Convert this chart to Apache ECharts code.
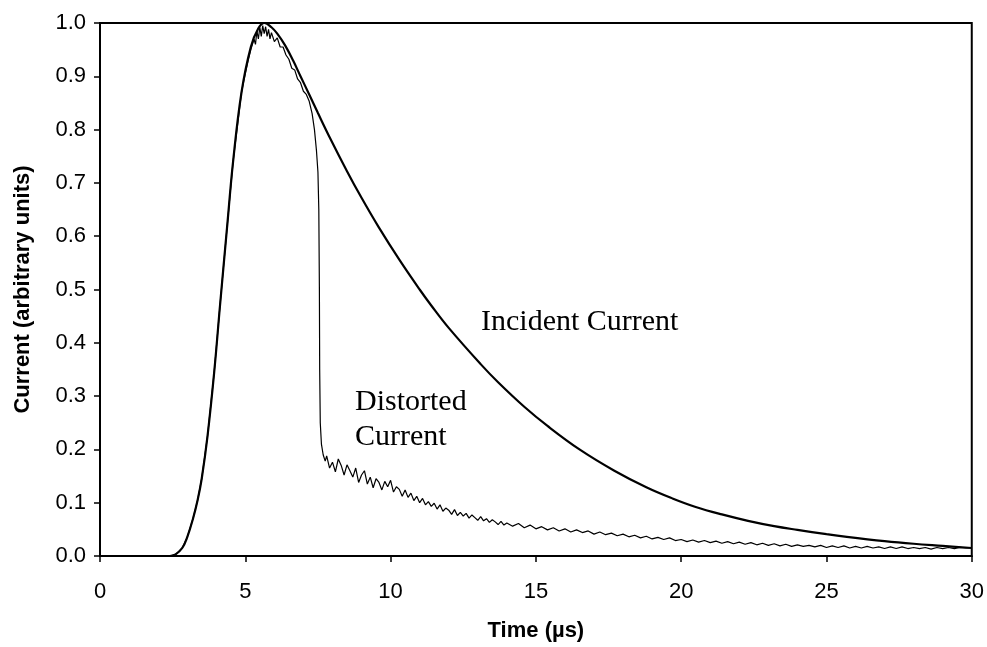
<!DOCTYPE html>
<html><head><meta charset="utf-8">
<script src="https://cdn.jsdelivr.net/npm/echarts@6/dist/echarts.min.js"></script>
<style>html,body{margin:0;padding:0;background:#fff}#c{width:987px;height:647px}</style>
</head><body><div id="c"></div>
<script>
var xTicks = [0, 5, 10, 15, 20, 25, 30];
var yTicks = [0.0, 0.1, 0.2, 0.3, 0.4, 0.5, 0.6, 0.7, 0.8, 0.9, 1.0];

var incidentTime = [0, 2.4, 2.6, 2.83, 3.0, 3.2, 3.36, 3.5, 3.7, 3.93, 4.13, 4.37, 4.58, 4.87, 5.19, 5.45, 5.66, 5.9, 6.1, 6.37, 6.65, 6.9, 7.2, 7.5, 7.88, 8.5, 9.0, 9.59, 10.3, 11.0, 11.4, 12.0, 13.1, 13.7, 14.6, 15.4, 16.5, 17.7, 18.8, 19.7, 20.5, 21.4, 22.3, 23.2, 24.0, 25.0, 25.7, 27.0, 28.0, 29.0, 30.0];
var incidentCurrent = [0, 0, 0.003, 0.015, 0.035, 0.07, 0.105, 0.145, 0.225, 0.345, 0.47, 0.615, 0.74, 0.87, 0.955, 0.99, 1.0, 0.992, 0.98, 0.958, 0.929, 0.9, 0.866, 0.831, 0.788, 0.722, 0.672, 0.617, 0.556, 0.5, 0.47, 0.428, 0.36, 0.326, 0.28, 0.244, 0.2, 0.16, 0.129, 0.108, 0.092, 0.078, 0.066, 0.056, 0.049, 0.041, 0.036, 0.028, 0.023, 0.019, 0.015];

var distortedTime = [0, 2.4, 2.6, 2.83, 3.0, 3.2, 3.36, 3.5, 3.7, 3.93, 4.13, 4.37, 4.58, 4.87, 5.0, 5.1, 5.19, 5.3, 5.35, 5.4, 5.45, 5.5, 5.55, 5.6, 5.65, 5.7, 5.75, 5.8, 5.85, 5.9, 6.0, 6.1, 6.2, 6.3, 6.4, 6.5, 6.6, 6.7, 6.8, 6.9, 7.0, 7.1, 7.2, 7.3, 7.38, 7.45, 7.5, 7.53, 7.55, 7.56, 7.58, 7.62, 7.68, 7.75,
  7.8, 7.9, 8.0, 8.1, 8.2, 8.3, 8.4, 8.5, 8.6, 8.7, 8.8, 8.9, 9.0, 9.1, 9.2, 9.3, 9.4, 9.5, 9.6, 9.7, 9.8, 9.9, 10.0, 10.1, 10.2, 10.3, 10.4, 10.5, 10.6, 10.7, 10.8, 10.9, 11.0, 11.1, 11.2, 11.3, 11.4, 11.5, 11.6, 11.7, 11.8, 11.9, 12.0, 12.1, 12.2, 12.3, 12.4, 12.5, 12.6, 12.7, 12.8, 12.9, 13.0, 13.1, 13.2, 13.3, 13.4, 13.5, 13.6, 13.7, 13.8, 13.9, 14.0,
  14.2, 14.4, 14.6, 14.8, 15.0, 15.2, 15.4, 15.6, 15.8, 16.0, 16.2, 16.4, 16.6, 16.8, 17.0, 17.2, 17.4, 17.6, 17.8, 18.0, 18.2, 18.4, 18.6, 18.8, 19.0, 19.2, 19.4, 19.6, 19.8, 20.0, 20.2, 20.4, 20.6, 20.8, 21.0, 21.2, 21.4, 21.6, 21.8, 22.0, 22.2, 22.4, 22.6, 22.8, 23.0, 23.2, 23.4, 23.6, 23.8, 24.0, 24.2, 24.4, 24.6, 24.8, 25.0, 25.2, 25.4, 25.6, 25.8, 26.0, 26.2, 26.4, 26.6, 26.8, 27.0, 27.2, 27.4, 27.6, 27.8, 28.0, 28.2, 28.4, 28.6, 28.8, 29.0, 29.2, 29.4, 29.6, 29.8, 30.0];
var distortedCurrent = [0, 0, 0.003, 0.015, 0.035, 0.07, 0.105, 0.145, 0.225, 0.345, 0.47, 0.615, 0.74, 0.87, 0.905, 0.93, 0.95, 0.97, 0.96, 0.985, 0.97, 0.992, 0.975, 0.995, 0.98, 0.993, 0.975, 0.988, 0.97, 0.982, 0.965, 0.972, 0.955, 0.955, 0.94, 0.932, 0.915, 0.912, 0.895, 0.888, 0.872, 0.866, 0.853, 0.83, 0.80, 0.76, 0.72, 0.65, 0.5, 0.35, 0.25, 0.21, 0.19, 0.178,
  0.188, 0.165, 0.176, 0.158, 0.182, 0.17, 0.152, 0.171, 0.16, 0.148, 0.165, 0.138, 0.152, 0.16, 0.135, 0.148, 0.128, 0.145, 0.138, 0.124, 0.14, 0.13, 0.142, 0.12, 0.13, 0.125, 0.112, 0.124, 0.11, 0.118, 0.104, 0.112, 0.1, 0.108, 0.096, 0.102, 0.093, 0.099, 0.088, 0.096, 0.084, 0.09, 0.086, 0.078, 0.087, 0.076, 0.082, 0.075, 0.08, 0.071, 0.077, 0.072, 0.067, 0.074, 0.066, 0.07, 0.063, 0.068, 0.064, 0.059, 0.065, 0.058, 0.062,
  0.056, 0.061, 0.053, 0.058, 0.051, 0.055, 0.049, 0.053, 0.047, 0.051, 0.045, 0.049, 0.044, 0.047, 0.041, 0.045, 0.04, 0.043, 0.038, 0.041, 0.036, 0.039, 0.034, 0.037, 0.032, 0.035, 0.031, 0.034, 0.029, 0.031, 0.027, 0.030, 0.026, 0.029, 0.025, 0.028, 0.024, 0.027, 0.023, 0.026, 0.022, 0.025, 0.021, 0.024, 0.02, 0.023, 0.019, 0.022, 0.018, 0.021, 0.018, 0.02, 0.017, 0.02, 0.016, 0.019, 0.016, 0.019, 0.015, 0.018, 0.015, 0.018, 0.015, 0.017, 0.014, 0.017, 0.014, 0.017, 0.014, 0.016, 0.014, 0.016, 0.013, 0.016, 0.014, 0.016, 0.014, 0.016, 0.015, 0.015];

var labelIncident = 'Incident Current';
var labelDistorted = ['Distorted', 'Current'];

function pairs(t, v) { return t.map(function (x, i) { return [x, v[i]]; }); }

var chart = echarts.init(document.getElementById('c'), null, {renderer: 'canvas'});
var serif = '"Liberation Serif", "Times New Roman", serif';
var sans = '"Liberation Sans", Arial, sans-serif';
chart.setOption({
  animation: false,
  backgroundColor: '#fff',
  grid: {left: 100, right: 11, top: 23, bottom: 91, show: true, borderColor: '#000', borderWidth: 2, backgroundColor: 'transparent'},
  xAxis: {
    type: 'value', min: xTicks[0], max: xTicks[xTicks.length - 1], interval: 5,
    name: 'Time (\u00b5s)', nameLocation: 'middle', nameGap: 64,
    nameTextStyle: {fontFamily: sans, fontWeight: 'bold', fontSize: 22, color: '#000'},
    axisLine: {show: true, lineStyle: {color: '#000', width: 2}},
    axisTick: {show: true, length: 6, inside: false, lineStyle: {color: '#000', width: 1.5}},
    axisLabel: {margin: 25, fontFamily: sans, fontSize: 22, color: '#000'},
    splitLine: {show: false}
  },
  yAxis: {
    type: 'value', min: yTicks[0], max: yTicks[yTicks.length - 1], interval: 0.1,
    name: 'Current (arbitrary units)', nameLocation: 'middle', nameGap: 66,
    nameTextStyle: {fontFamily: sans, fontWeight: 'bold', fontSize: 22, color: '#000'},
    axisLine: {show: true, lineStyle: {color: '#000', width: 2}},
    axisTick: {show: true, length: 6, inside: false, lineStyle: {color: '#000', width: 1.5}},
    axisLabel: {margin: 14, fontFamily: sans, fontSize: 22, color: '#000', formatter: function (v) { return v.toFixed(1); }},
    splitLine: {show: false}
  },
  series: [
    {type: 'line', name: 'Incident', data: pairs(incidentTime, incidentCurrent), showSymbol: false, smooth: 0.4,
     lineStyle: {color: '#000', width: 2.2}, z: 3},
    {type: 'line', name: 'Distorted', data: pairs(distortedTime, distortedCurrent), showSymbol: false, smooth: false,
     lineStyle: {color: '#000', width: 1.2}, z: 2}
  ],
  graphic: [
    {type: 'text', x: 481, y: 322, style: {text: labelIncident, font: '30px ' + serif, fill: '#000', textVerticalAlign: 'middle'}},
    {type: 'text', x: 355, y: 402, style: {text: labelDistorted[0], font: '30px ' + serif, fill: '#000', textVerticalAlign: 'middle'}},
    {type: 'text', x: 355, y: 437, style: {text: labelDistorted[1], font: '30px ' + serif, fill: '#000', textVerticalAlign: 'middle'}}
  ]
});
</script></body></html>
